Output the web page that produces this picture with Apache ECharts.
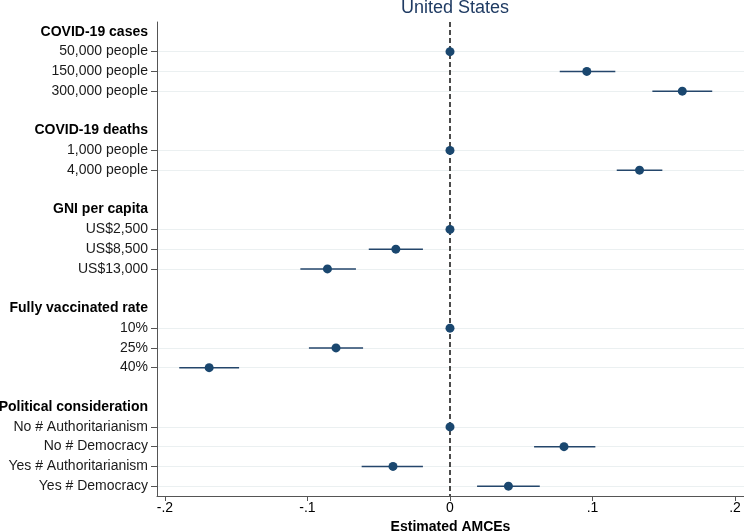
<!DOCTYPE html>
<html>
<head>
<meta charset="utf-8">
<script src="https://cdn.jsdelivr.net/npm/echarts@6/dist/echarts.min.js"></script>
<style>html,body{margin:0;padding:0;background:#fff}#c{width:744px;height:531px}</style>
</head>
<body>
<div id="c"></div>
<script>
// ---- data ----
const groups = ['COVID-19 cases', 'COVID-19 deaths', 'GNI per capita', 'Fully vaccinated rate', 'Political consideration'];
const levels = [
  ['50,000 people', '150,000 people', '300,000 people'],
  ['1,000 people', '4,000 people'],
  ['US$2,500', 'US$8,500', 'US$13,000'],
  ['10%', '25%', '40%'],
  ['No # Authoritarianism', 'No # Democracy', 'Yes # Authoritarianism', 'Yes # Democracy']
];
const estimates = [
  [0, 0.096, 0.163],
  [0, 0.133],
  [0, -0.038, -0.086],
  [0, -0.080, -0.169],
  [0, 0.080, -0.040, 0.041]
];
const lowerCI = [
  [null, 0.077, 0.142],
  [null, 0.117],
  [null, -0.057, -0.105],
  [null, -0.099, -0.190],
  [null, 0.059, -0.062, 0.019]
];
const upperCI = [
  [null, 0.116, 0.184],
  [null, 0.149],
  [null, -0.019, -0.066],
  [null, -0.061, -0.148],
  [null, 0.102, -0.019, 0.063]
];
const xTickValues = [-0.2, -0.1, 0, 0.1, 0.2];
const xTickLabels = ['-.2', '-.1', '0', '.1', '.2'];
const titleText = 'United States';
const xAxisTitle = 'Estimated AMCEs';

// ---- build rows ----
const categories = [];
const points = [];
const bars = [];
groups.forEach((g, gi) => {
  categories.push('h:' + g);
  levels[gi].forEach((lv, li) => {
    const idx = categories.length;
    categories.push('l:' + lv);
    points.push([estimates[gi][li], idx]);
    if (lowerCI[gi][li] !== null) bars.push([lowerCI[gi][li], upperCI[gi][li], idx]);
  });
  if (gi < groups.length - 1) categories.push('b:' + gi);
});
const isLevel = (i, v) => String(v).startsWith('l:');

const navy = '#1a476f';
const font = 'Arial, "Liberation Sans", Helvetica, sans-serif';

const chart = echarts.init(document.getElementById('c'), null, {renderer: 'canvas'});
chart.setOption({
  animation: false,
  backgroundColor: '#fff',
  title: {
    text: titleText, left: 450, textAlign: 'center', top: -6,
    textStyle: {fontFamily: font, fontSize: 18, fontWeight: 'normal', color: '#1f3b63'}
  },
  grid: {left: 157, right: 0, top: 22, bottom: 35, containLabel: false, outerBoundsMode: 'none'},
  xAxis: {
    type: 'value', min: -0.2056, max: 0.2063,
    name: xAxisTitle, nameLocation: 'middle', nameGap: 19,
    nameTextStyle: {fontFamily: font, fontSize: 14, fontWeight: 'bold', color: '#000'},
    axisLine: {show: true, onZero: false, lineStyle: {color: '#555', width: 1}},
    axisTick: {show: true, length: 5, customValues: xTickValues, lineStyle: {color: '#555'}},
    axisLabel: {
      customValues: xTickValues, margin: 5,
      fontFamily: font, fontSize: 14, color: '#000',
      formatter: v => { const i = xTickValues.findIndex(t => Math.abs(t - v) < 1e-9); return i >= 0 ? xTickLabels[i] : ''; }
    },
    splitLine: {show: false}
  },
  yAxis: {
    type: 'category', inverse: true, data: categories, boundaryGap: true,
    axisLine: {show: true, onZero: false, lineStyle: {color: '#555', width: 1}},
    axisTick: {show: true, alignWithLabel: true, length: 6, interval: isLevel, lineStyle: {color: '#555'}},
    axisLabel: {
      interval: 0, margin: 9, fontFamily: font, fontSize: 14, color: '#1a1a1a',
      formatter: v => {
        if (v.startsWith('h:')) return '{h|' + v.slice(2) + '}';
        if (v.startsWith('l:')) return v.slice(2);
        return '';
      },
      rich: {h: {fontFamily: font, fontSize: 14, fontWeight: 'bold', color: '#000'}}
    },
    splitLine: {show: true, alignWithLabel: true, interval: isLevel, lineStyle: {color: '#ebf0f1', width: 1}}
  },
  series: [
    {
      type: 'custom',
      data: bars,
      encode: {x: [0, 1], y: 2},
      z: 3,
      renderItem: (params, api) => {
        const a = api.coord([api.value(0), api.value(2)]);
        const b = api.coord([api.value(1), api.value(2)]);
        return {type: 'line', shape: {x1: a[0], y1: a[1], x2: b[0], y2: b[1]}, style: {stroke: '#24466b', lineWidth: 1.5}};
      }
    },
    {
      type: 'scatter',
      data: points,
      symbol: 'circle', symbolSize: 9,
      itemStyle: {color: navy, opacity: 1},
      z: 5,
      markLine: {
        silent: true, symbol: ['none', 'none'], label: {show: false},
        lineStyle: {color: '#111', type: [5, 3], width: 1.5},
        data: [{xAxis: 0}]
      }
    }
  ]
});
</script>
</body>
</html>
